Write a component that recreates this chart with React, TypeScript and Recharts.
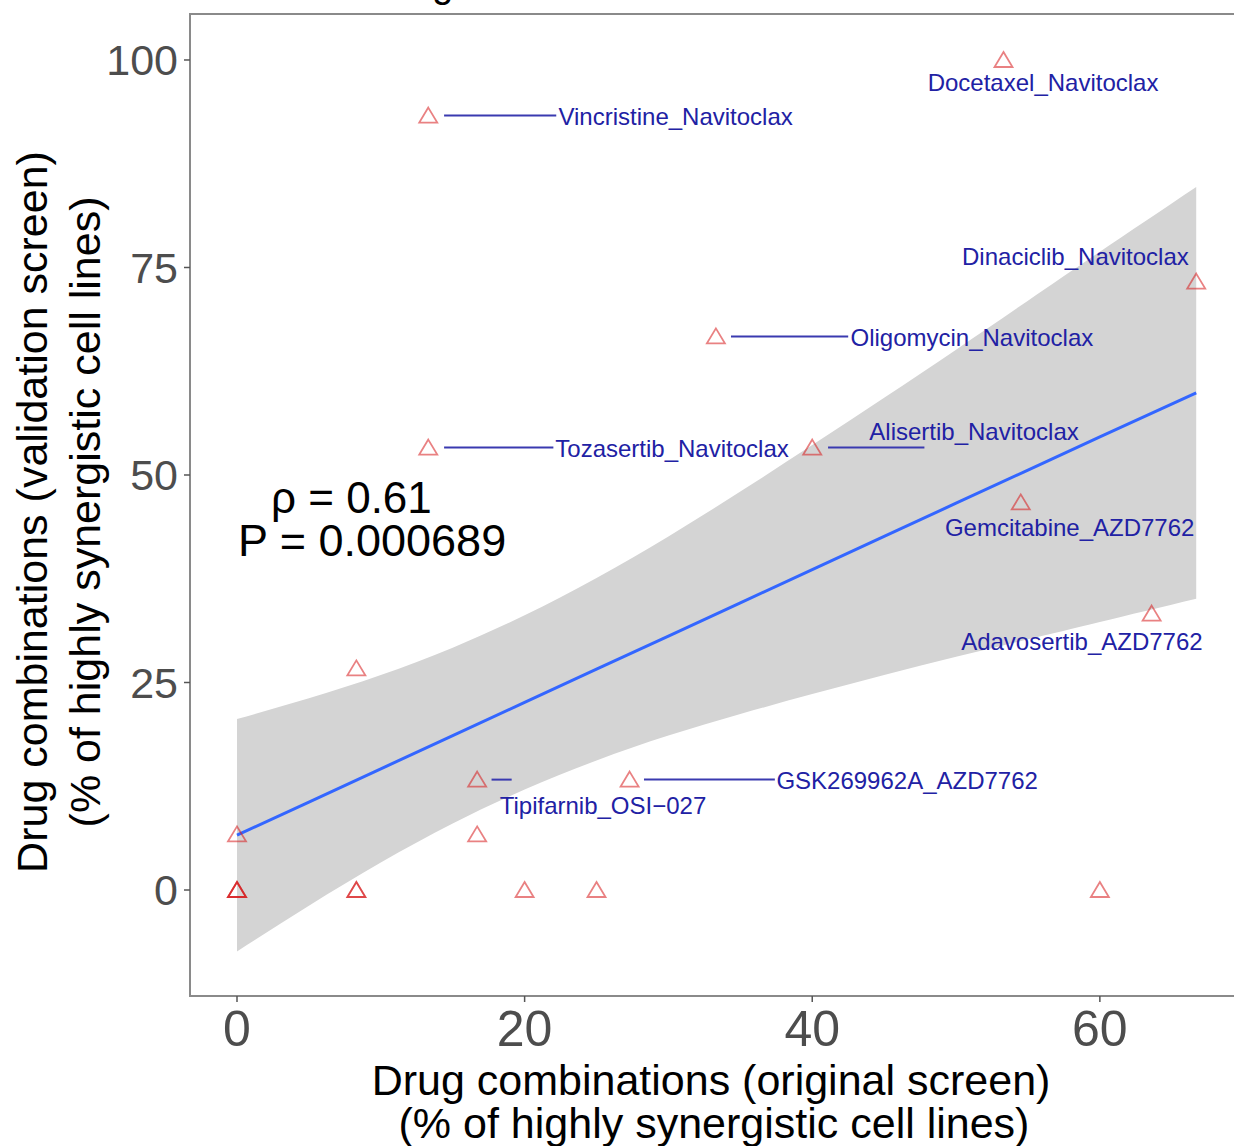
import React from 'react';
import {
  ComposedChart,
  XAxis,
  YAxis,
  Area,
  Line,
  Scatter,
  ReferenceLine,
  ReferenceArea,
  Customized,
} from 'recharts';

const FONT = '"Liberation Sans", Arial, Helvetica, sans-serif';

const xTicks = [0, 20, 40, 60];
const yTicks = [0, 25, 50, 75, 100];

// fitted line and its confidence band
const fitX = [0, 5, 10, 15, 20, 25, 30, 35, 40, 45, 50, 55, 60, 66.7];
const fitY = [6.6, 10.6, 14.6, 18.6, 22.6, 26.6, 30.6, 34.6, 38.6, 42.6, 46.6, 50.6, 54.6, 59.9];
const bandLo = [-7.4, -1.9, 3.3, 8.0, 12.1, 15.6, 18.6, 21.2, 23.6, 25.9, 28.1, 30.2, 32.3, 35.1];
const bandHi = [20.6, 23.1, 25.9, 29.2, 33.1, 37.6, 42.6, 48.0, 53.6, 59.3, 65.1, 71.0, 76.9, 84.7];

// drug combinations: original screen (x) vs validation screen (y)
const pointX = [53.3, 13.3, 66.7, 33.3, 13.3, 40, 54.5, 63.6, 8.3, 16.7, 27.3, 16.7, 0, 0, 0, 0, 8.3, 8.3, 20, 25, 60];
const pointY = [100, 93.3, 73.3, 66.7, 53.3, 53.3, 46.7, 33.3, 26.7, 13.3, 13.3, 6.7, 6.7, 0, 0, 0, 0, 0, 0, 0, 0];

// repelled labels (text centre, data units)
const labelNames = [
  'Docetaxel_Navitoclax',
  'Vincristine_Navitoclax',
  'Dinaciclib_Navitoclax',
  'Oligomycin_Navitoclax',
  'Tozasertib_Navitoclax',
  'Alisertib_Navitoclax',
  'Gemcitabine_AZD7762',
  'Adavosertib_AZD7762',
  'Tipifarnib_OSI\u2212027',
  'GSK269962A_AZD7762',
];
const labelX = [56.05, 30.5, 58.3, 51.1, 30.25, 51.25, 57.9, 58.75, 25.45, 46.6];
const labelY = [97.35, 93.25, 76.3, 66.6, 53.25, 55.3, 43.7, 30.0, 10.24, 13.25];

// leader segments [x1, y1, x2, y2]
const segments = [
  [14.4, 93.3, 22.2, 93.3],
  [34.35, 66.7, 42.5, 66.7],
  [14.4, 53.3, 22.0, 53.3],
  [41.1, 53.3, 47.8, 53.3],
  [17.7, 13.3, 19.1, 13.3],
  [28.3, 13.3, 37.4, 13.3],
];

const X_MIN = -3.268;
const X_MAX = 70.44;
const Y_MIN = -12.77;
const Y_MAX = 105.54;

const fitRows = fitX.map((x, i) => ({ x, fit: fitY[i], band: [bandLo[i], bandHi[i]] }));
const points = pointX.map((x, i) => ({ x, y: pointY[i] }));
const labels = labelNames.map((name, i) => ({ x: labelX[i], y: labelY[i], name }));

const Triangle = (props: any) => {
  const { cx, cy } = props;
  if (cx == null || cy == null) return null;
  const d = `M${cx},${cy - 8} L${cx + 9},${cy + 7} L${cx - 9},${cy + 7} Z`;
  return <path d={d} fill="none" stroke="#d7191c" strokeOpacity={0.55} strokeWidth={1.8} />;
};

const LabelText = (props: any) => {
  const { cx, cy, payload } = props;
  if (cx == null || cy == null) return null;
  return (
    <text x={cx} y={cy} dy="0.36em" textAnchor="middle" fontSize={24} fill="#2121a4" fontFamily={FONT}>
      {payload.name}
    </text>
  );
};

const Texts = () => (
  <g fontFamily={FONT}>
    <text x={371} y={-3} fontSize={38} fill="#000">
      Drug combinations and the validation screens
    </text>
    <text x={711} y={1095} fontSize={43} textAnchor="middle" fill="#000">
      Drug combinations (original screen)
    </text>
    <text x={714} y={1138} fontSize={43} textAnchor="middle" fill="#000">
      (% of highly synergistic cell lines)
    </text>
    <text x={47} y={512} fontSize={43} textAnchor="middle" fill="#000" transform="rotate(-90 47 512)">
      Drug combinations (validation screen)
    </text>
    <text x={100} y={512} fontSize={43} textAnchor="middle" fill="#000" transform="rotate(-90 100 512)">
      (% of highly synergistic cell lines)
    </text>
    <text x={271} y={513} fontSize={44} fill="#000">
      {'\u03c1 = 0.61'}
    </text>
    <text x={238} y={556} fontSize={45} fill="#000">
      P = 0.000689
    </text>
  </g>
);

export default function App() {
  return (
    <div style={{ position: 'absolute', left: 0, top: 0, width: 1234, height: 1146, overflow: 'hidden', background: '#fff' }}>
      <ComposedChart
        width={1250}
        height={1146}
        data={fitRows}
        margin={{ top: 14, right: 0, bottom: 0, left: 0 }}
        style={{ fontFamily: FONT, overflow: 'visible' }}
      >
        <XAxis
          dataKey="x"
          type="number"
          domain={[X_MIN, X_MAX]}
          allowDataOverflow
          ticks={xTicks}
          height={150}
          tickSize={6}
          tickMargin={8}
          tick={{ fontSize: 50, fill: '#4d4d4d' }}
          axisLine={{ stroke: '#8a8a8a', strokeWidth: 2 }}
          tickLine={{ stroke: '#555', strokeWidth: 1.5 }}
        />
        <YAxis
          type="number"
          domain={[Y_MIN, Y_MAX]}
          allowDataOverflow
          ticks={yTicks}
          width={190}
          tickSize={6}
          tickMargin={6}
          tick={{ fontSize: 43, fill: '#4d4d4d' }}
          axisLine={{ stroke: '#8a8a8a', strokeWidth: 2 }}
          tickLine={{ stroke: '#555', strokeWidth: 1.5 }}
        />
        <ReferenceArea
          x1={X_MIN}
          x2={X_MAX}
          y1={Y_MIN}
          y2={Y_MAX}
          fill="none"
          stroke="#8a8a8a"
          strokeWidth={2}
          ifOverflow="visible"
        />
        <Area
          dataKey="band"
          type="natural"
          fill="#d4d4d4"
          fillOpacity={1}
          stroke="none"
          isAnimationActive={false}
        />
        <Line
          dataKey="fit"
          type="linear"
          stroke="#3366ff"
          strokeWidth={3}
          dot={false}
          isAnimationActive={false}
        />
        {segments.map((s, i) => (
          <ReferenceLine
            key={i}
            segment={[{ x: s[0], y: s[1] }, { x: s[2], y: s[3] }]}
            stroke="#3a3ab0"
            strokeWidth={2}
            ifOverflow="visible"
          />
        ))}
        <Scatter data={points} dataKey="y" shape={<Triangle />} isAnimationActive={false} />
        <Scatter data={labels} dataKey="y" shape={<LabelText />} isAnimationActive={false} />
        <Customized component={Texts} />
      </ComposedChart>
    </div>
  );
}
